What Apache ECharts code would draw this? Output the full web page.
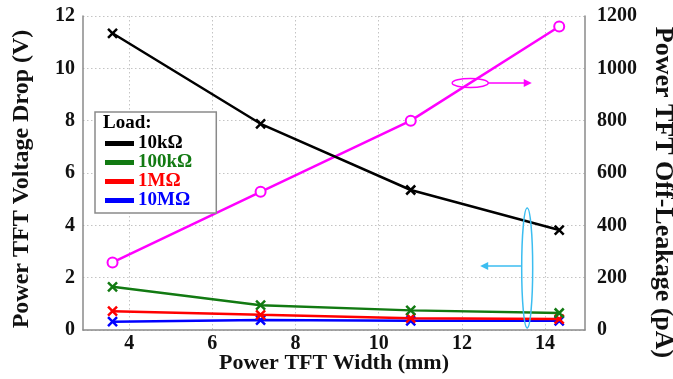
<!DOCTYPE html>
<html>
<head>
<meta charset="utf-8">
<script src="https://cdn.jsdelivr.net/npm/echarts@6/dist/echarts.min.js"></script>
<style>html,body{margin:0;padding:0;background:#fff}#c{width:673px;height:379px}</style>
</head>
<body>
<div id="c"></div>
<script>
const widths = [3.6, 7.16, 10.77, 14.34];
const drop10k = [11.34, 7.88, 5.35, 3.82];
const drop100k = [1.65, 0.95, 0.75, 0.65];
const drop1M = [0.72, 0.58, 0.45, 0.42];
const drop10M = [0.32, 0.38, 0.35, 0.35];
const leakage = [258, 528, 800, 1160];
const xTicks = [4, 6, 8, 10, 12, 14];
const seriesNames = ['10kΩ', '100kΩ', '1MΩ', '10MΩ'];
const seriesColors = ['#000000', '#127a12', '#ff0000', '#0000ff'];
const leakColor = '#ff00ff';
const cyan = '#3bbdf0';
// annotation anchors in data units (x, left-axis y)
const magEllipse = {x: 12.2, y: 9.44, rx: 18, ry: 4.5};
const magArrow = {x0: 12.63, x1: 13.68, y: 9.44};
const cyanEllipse = {x: 13.57, y0: 0.08, y1: 4.66, rx: 5.5};
const cyanArrow = {x0: 13.42, x1: 12.44, y: 2.45};

const font = 'Liberation Serif';
const chart = echarts.init(document.getElementById('c'));
const pair = (ys) => widths.map((x, i) => [x, ys[i]]);
const xSym = 'path://M0,0L10,10M10,0L0,10';
const volt = [drop10k, drop100k, drop1M, drop10M];

const series = volt.map((ys, i) => ({
  name: seriesNames[i], type: 'line', yAxisIndex: 0, data: pair(ys),
  symbol: xSym, symbolSize: 9,
  lineStyle: {color: seriesColors[i], width: 2.5},
  itemStyle: {color: seriesColors[i], borderColor: seriesColors[i], borderWidth: 2.5},
  z: 3 + (3 - i)
}));
series.push({
  name: 'Off-Leakage', type: 'line', yAxisIndex: 1, data: pair(leakage),
  symbol: 'emptyCircle', symbolSize: 10,
  lineStyle: {color: leakColor, width: 2.5},
  itemStyle: {color: leakColor, borderColor: leakColor, borderWidth: 2.5}
});

const grid = {left: 83, right: 88, top: 16, bottom: 49, containLabel: false, outerBoundsMode: 'none'};
const splitLine = {show: true, lineStyle: {color: '#c4c4c4', type: [1.5, 2.5], width: 1}};
const axisLine = {show: true, lineStyle: {color: '#8a8a8a', width: 1.5}};
const tickLabel = {fontFamily: font, fontWeight: 'bold', fontSize: 20, color: '#111'};
const nameStyle = {fontFamily: font, fontWeight: 'bold', color: '#111'};

chart.setOption({
  animation: false,
  backgroundColor: '#fff',
  grid: grid,
  xAxis: {
    type: 'value', min: 2.89, max: 14.96,
    axisLine: axisLine,
    axisTick: {show: false, customValues: xTicks},
    axisLabel: Object.assign({customValues: xTicks, margin: 4}, tickLabel),
    splitLine: splitLine,
    name: 'Power TFT Width (mm)', nameLocation: 'middle', nameGap: 22, nameMoveOverlap: false,
    nameTextStyle: Object.assign({fontSize: 22}, nameStyle)
  },
  yAxis: [{
    type: 'value', min: 0, max: 12, interval: 2,
    axisLine: axisLine, axisTick: {show: false},
    axisLabel: Object.assign({margin: 8}, tickLabel),
    splitLine: splitLine,
    name: 'Power TFT Voltage Drop (V)', nameLocation: 'middle', nameGap: 49, nameMoveOverlap: false,
    nameTextStyle: Object.assign({fontSize: 24, padding: [0, 12, 0, 0]}, nameStyle)
  }, {
    type: 'value', min: 0, max: 1200, interval: 200, position: 'right',
    axisLine: axisLine, axisTick: {show: false},
    axisLabel: Object.assign({margin: 12, formatter: (v) => String(v)}, tickLabel),
    splitLine: {show: false},
    name: 'Power TFT Off-Leakage (pA)', nameLocation: 'middle', nameGap: 65, nameRotate: -90, nameMoveOverlap: false,
    nameTextStyle: Object.assign({fontSize: 26, padding: [0, 0, 0, 39]}, nameStyle)
  }],
  legend: {
    orient: 'vertical', left: 95, top: 112,
    padding: [22, 24, 3, 10], itemGap: 0,
    itemWidth: 27, itemHeight: 3, icon: 'rect',
    borderColor: '#8a8a8a', borderWidth: 1.5, backgroundColor: '#fff',
    data: seriesNames.map((n, i) => ({name: n, textStyle: {color: seriesColors[i]}})),
    textStyle: {fontFamily: font, fontWeight: 'bold', fontSize: 19, lineHeight: 17}
  },
  series: series
});

function drawAnnotations() {
  const P = (x, y) => chart.convertToPixel({gridIndex: 0}, [x, y]);
  const me = P(magEllipse.x, magEllipse.y);
  const ma0 = P(magArrow.x0, magArrow.y), ma1 = P(magArrow.x1, magArrow.y);
  const ct = P(cyanEllipse.x, cyanEllipse.y1), cb = P(cyanEllipse.x, cyanEllipse.y0);
  const ca0 = P(cyanArrow.x0, cyanArrow.y), ca1 = P(cyanArrow.x1, cyanArrow.y);
  chart.setOption({
    graphic: [
      {type: 'ellipse', shape: {cx: me[0], cy: me[1], rx: magEllipse.rx, ry: magEllipse.ry},
        style: {fill: 'none', stroke: leakColor, lineWidth: 1.5}, z: 100},
      {type: 'line', shape: {x1: ma0[0], y1: ma0[1], x2: ma1[0] - 6, y2: ma1[1]},
        style: {stroke: leakColor, lineWidth: 1.5}, z: 100},
      {type: 'polygon', shape: {points: [[ma1[0], ma1[1]], [ma1[0] - 8, ma1[1] - 4], [ma1[0] - 8, ma1[1] + 4]]},
        style: {fill: leakColor}, z: 100},
      {type: 'ellipse', shape: {cx: ct[0], cy: (ct[1] + cb[1]) / 2, rx: cyanEllipse.rx, ry: (cb[1] - ct[1]) / 2},
        style: {fill: 'none', stroke: cyan, lineWidth: 1.5}, z: 100},
      {type: 'line', shape: {x1: ca0[0], y1: ca0[1], x2: ca1[0] + 6, y2: ca1[1]},
        style: {stroke: cyan, lineWidth: 1.5}, z: 100},
      {type: 'polygon', shape: {points: [[ca1[0], ca1[1]], [ca1[0] + 8, ca1[1] - 4], [ca1[0] + 8, ca1[1] + 4]]},
        style: {fill: cyan}, z: 100},
      {type: 'text', left: 103, top: 114, z: 200,
        style: {text: 'Load:', fontFamily: font, fontWeight: 'bold', fontSize: 19, fill: '#000'}}
    ]
  });
}
drawAnnotations();
</script>
</body>
</html>
